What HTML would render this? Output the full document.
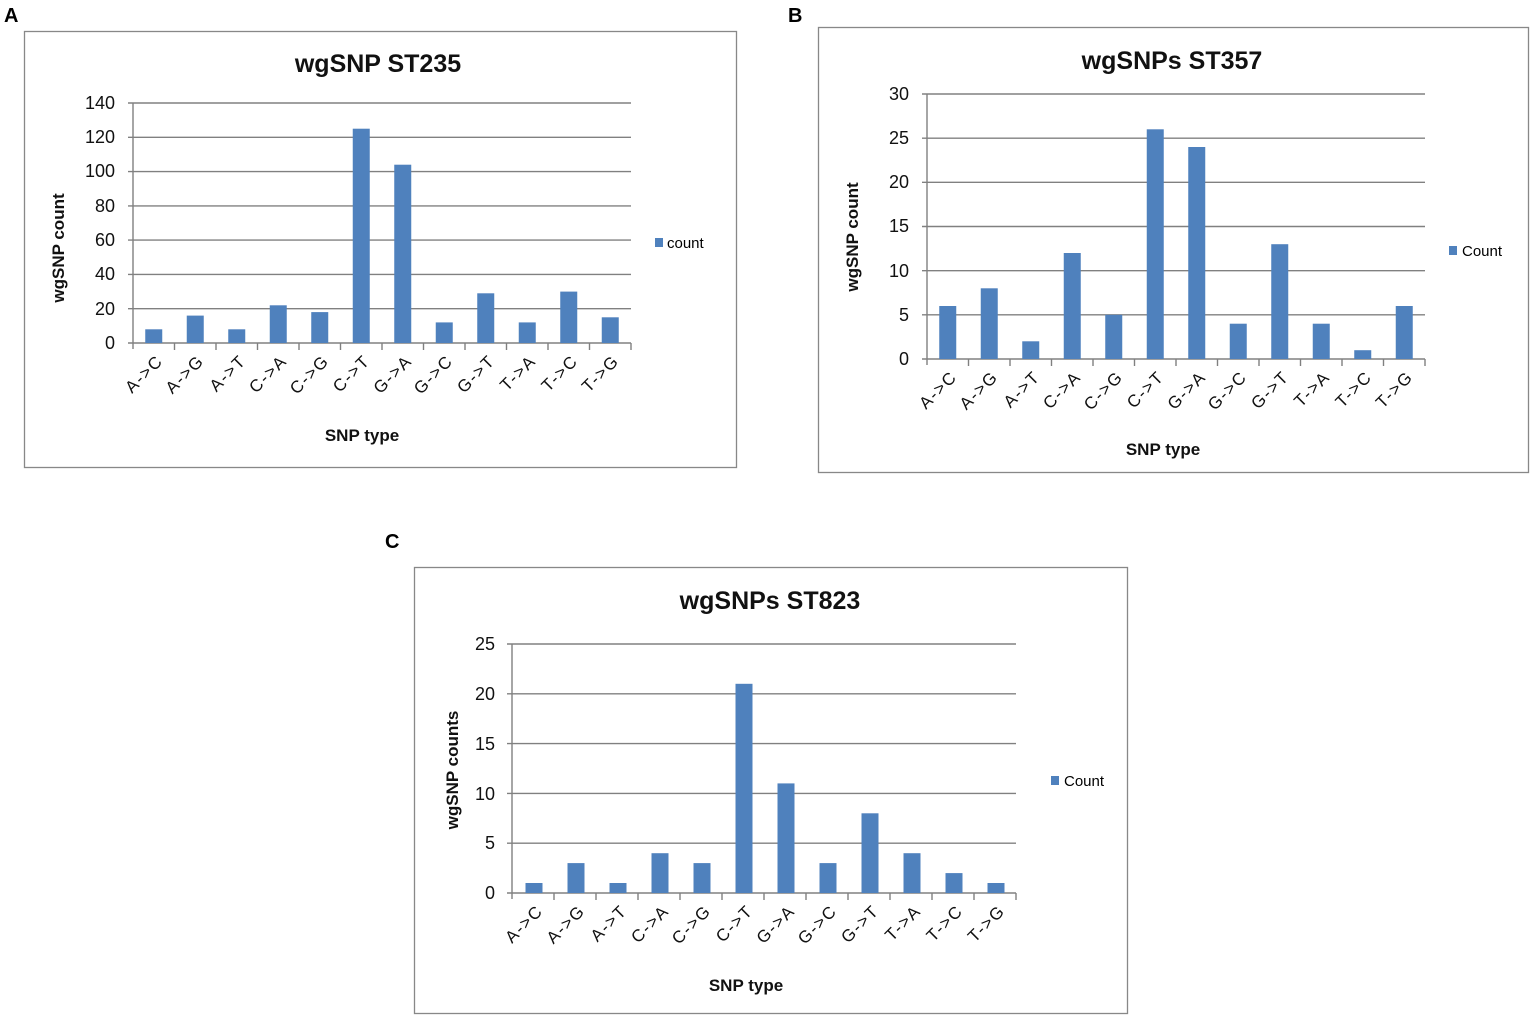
<!DOCTYPE html>
<html><head><meta charset="utf-8"><style>
html,body{margin:0;padding:0;background:#fff;}
svg{display:block;font-family:"Liberation Sans",sans-serif;}
.g{stroke:#808080;stroke-width:1.4;fill:none;}
.b{fill:#4f81bd;}
.t{font-size:18px;fill:#111;}
.tl{font-size:17px;fill:#111;text-anchor:end;letter-spacing:1.5px;}
.ti{font-size:25px;font-weight:bold;text-anchor:middle;fill:#111;}
.ax{font-size:17px;font-weight:bold;text-anchor:middle;fill:#111;}
.pl{font-size:20px;font-weight:bold;fill:#000;}
</style></head><body>
<svg width="1535" height="1019" viewBox="0 0 1535 1019">
<text class="pl" x="4" y="22">A</text>
<text class="pl" x="788" y="22">B</text>
<text class="pl" x="385" y="548">C</text>

<!-- Chart A -->
<rect x="24.5" y="31.5" width="712" height="436" fill="#fff" stroke="#888" stroke-width="1.3"/>
<text class="ti" x="378" y="72">wgSNP ST235</text>
<g class="g">
<line x1="128" y1="103" x2="631" y2="103"/><line x1="128" y1="137.3" x2="631" y2="137.3"/>
<line x1="128" y1="171.6" x2="631" y2="171.6"/><line x1="128" y1="205.9" x2="631" y2="205.9"/>
<line x1="128" y1="240.1" x2="631" y2="240.1"/><line x1="128" y1="274.4" x2="631" y2="274.4"/>
<line x1="128" y1="308.7" x2="631" y2="308.7"/><line x1="128" y1="343" x2="631" y2="343"/>
<line x1="133" y1="103" x2="133" y2="349"/>
<path d="M174.5 343v7M216 343v7M257.5 343v7M299 343v7M340.5 343v7M382 343v7M423.5 343v7M465 343v7M506.5 343v7M548 343v7M589.5 343v7M631 343v7"/>
</g>
<g class="t" text-anchor="end">
<text x="115" y="109">140</text><text x="115" y="143">120</text><text x="115" y="177">100</text>
<text x="115" y="212">80</text><text x="115" y="246">60</text><text x="115" y="280">40</text>
<text x="115" y="315">20</text><text x="115" y="349">0</text>
</g>
<g class="b">
<rect x="145.25" y="329.3" width="17" height="13.7"/><rect x="186.75" y="315.6" width="17" height="27.4"/>
<rect x="228.25" y="329.3" width="17" height="13.7"/><rect x="269.75" y="305.3" width="17" height="37.7"/>
<rect x="311.25" y="312.1" width="17" height="30.9"/><rect x="352.75" y="128.7" width="17" height="214.3"/>
<rect x="394.25" y="164.7" width="17" height="178.3"/><rect x="435.75" y="322.4" width="17" height="20.6"/>
<rect x="477.25" y="293.3" width="17" height="49.7"/><rect x="518.75" y="322.4" width="17" height="20.6"/>
<rect x="560.25" y="291.6" width="17" height="51.4"/><rect x="601.75" y="317.3" width="17" height="25.7"/>
</g>
<g class="tl">
<text transform="translate(164,362) rotate(-45)">A-&gt;C</text>
<text transform="translate(205,362) rotate(-45)">A-&gt;G</text>
<text transform="translate(247,362) rotate(-45)">A-&gt;T</text>
<text transform="translate(288,362) rotate(-45)">C-&gt;A</text>
<text transform="translate(330,362) rotate(-45)">C-&gt;G</text>
<text transform="translate(371,362) rotate(-45)">C-&gt;T</text>
<text transform="translate(413,362) rotate(-45)">G-&gt;A</text>
<text transform="translate(454,362) rotate(-45)">G-&gt;C</text>
<text transform="translate(496,362) rotate(-45)">G-&gt;T</text>
<text transform="translate(537,362) rotate(-45)">T-&gt;A</text>
<text transform="translate(579,362) rotate(-45)">T-&gt;C</text>
<text transform="translate(620,362) rotate(-45)">T-&gt;G</text>
</g>
<text class="ax" x="362" y="441">SNP type</text>
<text class="ax" transform="translate(64,248) rotate(-90)">wgSNP count</text>
<rect x="655" y="238" width="8" height="9" class="b"/>
<text x="667" y="248" style="font-size:15px">count</text>

<!-- Chart B -->
<rect x="818.5" y="27.5" width="710" height="445" fill="#fff" stroke="#888" stroke-width="1.3"/>
<text class="ti" x="1172" y="69">wgSNPs ST357</text>
<g class="g">
<line x1="922" y1="94" x2="1425" y2="94"/><line x1="922" y1="138.2" x2="1425" y2="138.2"/>
<line x1="922" y1="182.3" x2="1425" y2="182.3"/><line x1="922" y1="226.5" x2="1425" y2="226.5"/>
<line x1="922" y1="270.7" x2="1425" y2="270.7"/><line x1="922" y1="314.8" x2="1425" y2="314.8"/>
<line x1="922" y1="359" x2="1425" y2="359"/>
<line x1="927" y1="94" x2="927" y2="365"/>
<path d="M968.5 359v7M1010 359v7M1051.5 359v7M1093 359v7M1134.5 359v7M1176 359v7M1217.5 359v7M1259 359v7M1300.5 359v7M1342 359v7M1383.5 359v7M1425 359v7"/>
</g>
<g class="t" text-anchor="end">
<text x="909" y="100">30</text><text x="909" y="144">25</text><text x="909" y="188">20</text>
<text x="909" y="232">15</text><text x="909" y="277">10</text><text x="909" y="321">5</text>
<text x="909" y="365">0</text>
</g>
<g class="b">
<rect x="939.25" y="306" width="17" height="53"/><rect x="980.75" y="288.3" width="17" height="70.7"/>
<rect x="1022.25" y="341.3" width="17" height="17.7"/><rect x="1063.75" y="253" width="17" height="106"/>
<rect x="1105.25" y="314.8" width="17" height="44.2"/><rect x="1146.75" y="129.3" width="17" height="229.7"/>
<rect x="1188.25" y="147" width="17" height="212"/><rect x="1229.75" y="323.7" width="17" height="35.3"/>
<rect x="1271.25" y="244.2" width="17" height="114.8"/><rect x="1312.75" y="323.7" width="17" height="35.3"/>
<rect x="1354.25" y="350.2" width="17" height="8.8"/><rect x="1395.75" y="306" width="17" height="53"/>
</g>
<g class="tl">
<text transform="translate(958,378) rotate(-45)">A-&gt;C</text>
<text transform="translate(999,378) rotate(-45)">A-&gt;G</text>
<text transform="translate(1041,378) rotate(-45)">A-&gt;T</text>
<text transform="translate(1082,378) rotate(-45)">C-&gt;A</text>
<text transform="translate(1124,378) rotate(-45)">C-&gt;G</text>
<text transform="translate(1165,378) rotate(-45)">C-&gt;T</text>
<text transform="translate(1207,378) rotate(-45)">G-&gt;A</text>
<text transform="translate(1248,378) rotate(-45)">G-&gt;C</text>
<text transform="translate(1290,378) rotate(-45)">G-&gt;T</text>
<text transform="translate(1331,378) rotate(-45)">T-&gt;A</text>
<text transform="translate(1373,378) rotate(-45)">T-&gt;C</text>
<text transform="translate(1414,378) rotate(-45)">T-&gt;G</text>
</g>
<text class="ax" x="1163" y="455">SNP type</text>
<text class="ax" transform="translate(858,237) rotate(-90)">wgSNP count</text>
<rect x="1449" y="246" width="8" height="9" class="b"/>
<text x="1462" y="256" style="font-size:15px">Count</text>

<!-- Chart C -->
<rect x="414.5" y="567.5" width="713" height="446" fill="#fff" stroke="#888" stroke-width="1.3"/>
<text class="ti" x="770" y="609">wgSNPs ST823</text>
<g class="g">
<line x1="507" y1="644" x2="1016" y2="644"/><line x1="507" y1="693.8" x2="1016" y2="693.8"/>
<line x1="507" y1="743.6" x2="1016" y2="743.6"/><line x1="507" y1="793.4" x2="1016" y2="793.4"/>
<line x1="507" y1="843.2" x2="1016" y2="843.2"/><line x1="507" y1="893" x2="1016" y2="893"/>
<line x1="512" y1="644" x2="512" y2="899"/>
<path d="M554 893v7M596 893v7M638 893v7M680 893v7M722 893v7M764 893v7M806 893v7M848 893v7M890 893v7M932 893v7M974 893v7M1016 893v7"/>
</g>
<g class="t" text-anchor="end">
<text x="495" y="650">25</text><text x="495" y="700">20</text><text x="495" y="750">15</text>
<text x="495" y="800">10</text><text x="495" y="849">5</text><text x="495" y="899">0</text>
</g>
<g class="b">
<rect x="525.5" y="883" width="17" height="10"/><rect x="567.5" y="863.1" width="17" height="29.9"/>
<rect x="609.5" y="883" width="17" height="10"/><rect x="651.5" y="853.2" width="17" height="39.8"/>
<rect x="693.5" y="863.1" width="17" height="29.9"/><rect x="735.5" y="683.8" width="17" height="209.2"/>
<rect x="777.5" y="783.4" width="17" height="109.6"/><rect x="819.5" y="863.1" width="17" height="29.9"/>
<rect x="861.5" y="813.3" width="17" height="79.7"/><rect x="903.5" y="853.2" width="17" height="39.8"/>
<rect x="945.5" y="873.1" width="17" height="19.9"/><rect x="987.5" y="883" width="17" height="10"/>
</g>
<g class="tl">
<text transform="translate(544,912) rotate(-45)">A-&gt;C</text>
<text transform="translate(586,912) rotate(-45)">A-&gt;G</text>
<text transform="translate(628,912) rotate(-45)">A-&gt;T</text>
<text transform="translate(670,912) rotate(-45)">C-&gt;A</text>
<text transform="translate(712,912) rotate(-45)">C-&gt;G</text>
<text transform="translate(754,912) rotate(-45)">C-&gt;T</text>
<text transform="translate(796,912) rotate(-45)">G-&gt;A</text>
<text transform="translate(838,912) rotate(-45)">G-&gt;C</text>
<text transform="translate(880,912) rotate(-45)">G-&gt;T</text>
<text transform="translate(922,912) rotate(-45)">T-&gt;A</text>
<text transform="translate(964,912) rotate(-45)">T-&gt;C</text>
<text transform="translate(1006,912) rotate(-45)">T-&gt;G</text>
</g>
<text class="ax" x="746" y="991">SNP type</text>
<text class="ax" transform="translate(458,770) rotate(-90)">wgSNP counts</text>
<rect x="1051" y="776" width="8" height="9" class="b"/>
<text x="1064" y="786" style="font-size:15px">Count</text>
</svg>
</body></html>
